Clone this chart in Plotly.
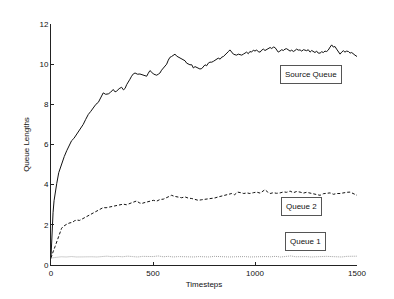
import plotly.graph_objects as go

# ---- data ----
src_t = [0, 3, 6, 10, 15, 20, 28, 38, 52, 65, 77, 90, 101, 112, 122, 134, 146, 158, 170, 183,
         195, 207, 220, 232, 240, 248, 256, 268, 281, 292, 305, 314, 322, 334, 346, 355, 363, 371,
         379, 387, 395, 404, 412, 424, 436, 448, 461, 469, 477, 485, 494, 502, 510, 518, 526, 534,
         542, 551, 559, 567, 575, 583, 591, 600, 608, 616, 624, 632, 641, 649, 657, 665, 673, 681,
         690, 698, 706, 714, 722, 730, 739, 747, 755, 763, 771, 779, 788, 796, 804, 812, 820, 829,
         837, 845, 853, 861, 869, 877, 886, 894, 902, 910, 918, 926, 935, 943, 951, 959, 967, 975,
         983, 992, 1000, 1008, 1016, 1025, 1033, 1041, 1049, 1057, 1066, 1074, 1082, 1090, 1098,
         1106, 1114, 1122, 1131, 1139, 1147, 1155, 1163, 1172, 1180, 1188, 1196, 1204, 1212, 1221,
         1229, 1237, 1245, 1253, 1261, 1270, 1278, 1286, 1294, 1302, 1310, 1319, 1327, 1335, 1343,
         1351, 1359, 1368, 1376, 1384, 1392, 1400, 1408, 1417, 1425, 1433, 1441, 1449, 1458, 1466,
         1474, 1482, 1490, 1500]
src_v = [0.4, 1.2, 1.9, 2.6, 3.2, 3.6, 4.05, 4.6, 5.05, 5.4, 5.69, 5.95, 6.19, 6.3, 6.45, 6.68,
         6.8, 7.0, 7.25, 7.5, 7.65, 7.83, 8.0, 8.1, 8.25, 8.45, 8.57, 8.5, 8.52, 8.6, 8.74, 8.62,
         8.66, 8.78, 8.85, 8.72, 8.79, 8.98, 9.15, 9.25, 9.4, 9.52, 9.56, 9.5, 9.51, 9.47, 9.45,
         9.4, 9.55, 9.68, 9.6, 9.51, 9.48, 9.45, 9.5, 9.56, 9.7, 9.81, 9.9, 10.0, 10.2, 10.34,
         10.38, 10.45, 10.5, 10.4, 10.35, 10.3, 10.25, 10.22, 10.17, 10.05, 10.0, 9.97, 9.97, 9.81,
         9.88, 9.85, 9.81, 9.76, 9.78, 9.9, 9.97, 9.92, 10.05, 10.1, 10.1, 10.14, 10.2, 10.22,
         10.3, 10.25, 10.35, 10.38, 10.45, 10.55, 10.62, 10.71, 10.6, 10.5, 10.47, 10.45, 10.5,
         10.48, 10.45, 10.5, 10.55, 10.6, 10.52, 10.63, 10.6, 10.7, 10.65, 10.71, 10.62, 10.6,
         10.7, 10.75, 10.68, 10.72, 10.8, 10.83, 10.78, 10.85, 10.83, 10.7, 10.6, 10.65, 10.72,
         10.68, 10.75, 10.77, 10.7, 10.65, 10.7, 10.63, 10.68, 10.75, 10.7, 10.71, 10.65, 10.72,
         10.7, 10.67, 10.72, 10.6, 10.68, 10.63, 10.58, 10.65, 10.55, 10.55, 10.62, 10.58, 10.65,
         10.63, 10.7, 10.85, 10.96, 10.85, 10.88, 10.75, 10.6, 10.5, 10.6, 10.67, 10.6, 10.65,
         10.63, 10.55, 10.58, 10.5, 10.45, 10.38]

q2_t = [0, 3, 10, 20, 28, 36, 44, 52, 60, 69, 80, 93, 105, 115, 126, 140, 158, 170, 180, 191,
        205, 215, 224, 240, 256, 270, 289, 305, 322, 338, 354, 370, 387, 404, 420, 432, 444, 456,
        469, 485, 502, 518, 534, 551, 567, 580, 591, 605, 624, 640, 657, 673, 690, 705, 722, 739,
        755, 771, 788, 804, 820, 838, 855, 870, 886, 900, 915, 930, 945, 960, 975, 992, 1008, 1025,
        1041, 1049, 1060, 1074, 1090, 1106, 1123, 1140, 1155, 1172, 1188, 1204, 1221, 1237, 1253,
        1270, 1286, 1302, 1319, 1335, 1352, 1368, 1385, 1400, 1417, 1433, 1450, 1466, 1482, 1500]
q2_v = [0.35, 0.42, 0.65, 0.92, 1.15, 1.41, 1.65, 1.83, 1.92, 1.99, 2.05, 2.1, 2.12, 2.2, 2.24,
        2.22, 2.32, 2.38, 2.42, 2.48, 2.55, 2.6, 2.65, 2.75, 2.86, 2.85, 2.89, 2.9, 2.93, 2.98,
        3.03, 3.0, 3.06, 3.12, 3.19, 3.1, 3.06, 3.1, 3.14, 3.2, 3.22, 3.18, 3.26, 3.28, 3.36, 3.4,
        3.47, 3.42, 3.39, 3.35, 3.39, 3.33, 3.31, 3.25, 3.22, 3.25, 3.27, 3.3, 3.33, 3.34, 3.39,
        3.44, 3.5, 3.54, 3.56, 3.5, 3.63, 3.6, 3.56, 3.59, 3.56, 3.6, 3.63, 3.58, 3.68, 3.75, 3.65,
        3.56, 3.6, 3.57, 3.59, 3.64, 3.62, 3.68, 3.6, 3.66, 3.63, 3.58, 3.62, 3.59, 3.55, 3.52,
        3.47, 3.55, 3.58, 3.59, 3.52, 3.56, 3.56, 3.6, 3.62, 3.63, 3.55, 3.47]

q1_t = [0, 5, 25, 50, 75, 100, 125, 150, 175, 200, 225, 250, 275, 300, 325, 350, 375, 400, 425,
        450, 475, 500, 525, 550, 575, 600, 625, 650, 675, 700, 725, 750, 775, 800, 825, 850, 875,
        900, 925, 950, 975, 1000, 1025, 1050, 1075, 1100, 1125, 1150, 1175, 1200, 1225, 1250,
        1275, 1300, 1325, 1350, 1375, 1400, 1425, 1450, 1475, 1500]
q1_v = [0.3, 0.35, 0.38, 0.41, 0.4, 0.42, 0.4, 0.41, 0.43, 0.41, 0.4, 0.42, 0.44, 0.41, 0.43,
        0.41, 0.44, 0.42, 0.4, 0.43, 0.41, 0.42, 0.45, 0.41, 0.43, 0.4, 0.42, 0.41, 0.43, 0.4,
        0.42, 0.41, 0.4, 0.43, 0.41, 0.42, 0.4, 0.41, 0.43, 0.42, 0.4, 0.41, 0.44, 0.42, 0.41,
        0.43, 0.4, 0.42, 0.45, 0.41, 0.43, 0.42, 0.4, 0.42, 0.41, 0.43, 0.42, 0.41, 0.4, 0.43,
        0.42, 0.44]

x_ticks = [0, 500, 1000, 1500]
y_ticks = [0, 2, 4, 6, 8, 10, 12]

labels = ["Source Queue", "Queue 2", "Queue 1"]
label_x = [1274, 1226, 1246]
label_y = [9.51, 2.92, 1.19]

FONT = "Liberation Sans, Arial, Helvetica, sans-serif"

fig = go.Figure()
fig.add_trace(go.Scatter(x=q1_t, y=q1_v, mode="lines",
                         line=dict(color="#a0a0a0", width=1, dash="1px,1px"), name="Queue 1"))
fig.add_trace(go.Scatter(x=q2_t, y=q2_v, mode="lines",
                         line=dict(color="#111111", width=1, dash="3px,2px"), name="Queue 2"))
fig.add_trace(go.Scatter(x=src_t, y=src_v, mode="lines",
                         line=dict(color="#111111", width=1), name="Source Queue"))

for txt, ax_, ay_ in zip(labels, label_x, label_y):
    fig.add_annotation(x=ax_, y=ay_, xref="x", yref="y", text=txt, showarrow=False,
                       font=dict(family=FONT, size=8, color="#111111"),
                       bordercolor="#555555", borderwidth=1, borderpad=4,
                       bgcolor="white")

# the page body adds an 8px offset, so margins are shifted to compensate
fig.update_layout(
    width=394, height=299,
    margin=dict(l=43, r=45, t=14, b=42),
    paper_bgcolor="white", plot_bgcolor="white",
    showlegend=False,
    font=dict(family=FONT, size=8, color="#111111"),
    xaxis=dict(range=[0, 1500], tickvals=x_ticks, ticktext=[str(v) for v in x_ticks],
               ticks="inside", ticklen=3, tickcolor="#222", showline=True, linecolor="#222",
               linewidth=1, showgrid=False, zeroline=False,
               title=dict(text="Timesteps", font=dict(size=8), standoff=4)),
    yaxis=dict(range=[0, 12], tickvals=y_ticks, ticktext=[str(v) for v in y_ticks],
               ticks="inside", ticklen=3, tickcolor="#222", showline=True, linecolor="#222",
               linewidth=1, showgrid=False, zeroline=False,
               title=dict(text="Queue Lengths", font=dict(size=8), standoff=8)),
)

fig.write_html("out.html")
